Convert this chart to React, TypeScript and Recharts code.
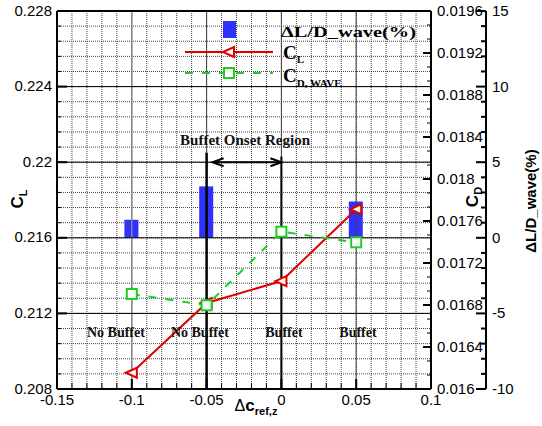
import React from 'react';
import {
  ComposedChart, Bar, Line, XAxis, YAxis, CartesianGrid, ReferenceLine, ReferenceDot, Legend,
} from 'recharts';

// ---------------- data ----------------
const xValues = [-0.1, -0.05, 0, 0.05];
const ldWave = [1.2, 3.4, 0, 2.4];
const clValues = [0.20886, 0.21255, 0.21371, 0.21751];
const cdWave = [0.016905, 0.016797, 0.017498, 0.017397];

const xMajorTicks = [-0.15, -0.1, -0.05, 0, 0.05, 0.1];
const xTickLabels = ['-0.15', '-0.1', '-0.05', '0', '0.05', '0.1'];
const clMajorTicks = [0.208, 0.212, 0.216, 0.22, 0.224, 0.228];
const clTickLabels = ['0.208', '0.212', '0.216', '0.22', '0.224', '0.228'];
const cdMajorTicks = [0.016, 0.0164, 0.0168, 0.0172, 0.0176, 0.018, 0.0184, 0.0188, 0.0192, 0.0196];
const cdTickLabels = ['0.016', '0.0164', '0.0168', '0.0172', '0.0176', '0.018', '0.0184', '0.0188', '0.0192', '0.0196'];
const ldMajorTicks = [-10, -5, 0, 5, 10, 15];
const ldTickLabels = ['-10', '-5', '0', '5', '10', '15'];

const regionLabels = [
  { x: -0.1106, y: 0.21076, text: 'No Buffet' },
  { x: -0.0545, y: 0.21076, text: 'No Buffet' },
  { x: 0.0017, y: 0.21076, text: 'Buffet' },
  { x: 0.0512, y: 0.21076, text: 'Buffet' },
];
const onsetTitle = { x: -0.0243, y: 0.22091, text: 'Buffet Onset Region' };
const onsetStart = { x: -0.05, top: 0.2205 };
const onsetEnd = { x: 0, top: 0.2203 };
const arrowSpan = { from: -0.046, to: 0, y: 0.22 };

const data = xValues.map((x, i) => ({ x, ld: ldWave[i], cl: clValues[i], cd: cdWave[i] }));

// minor tick subdivision helper (axis ticks only)
const subdivide = (majors: number[], n: number) => {
  const out: number[] = [];
  for (let i = 0; i < majors.length - 1; i++) {
    for (let k = 0; k < n; k++) {
      out.push(Number((majors[i] + ((majors[i + 1] - majors[i]) * k) / n).toPrecision(10)));
    }
  }
  out.push(majors[majors.length - 1]);
  return out;
};
const xTicks = subdivide(xMajorTicks, 5);
const clTicks = subdivide(clMajorTicks, 5);
const cdTicks = subdivide(cdMajorTicks, 3);
const ldTicks = subdivide(ldMajorTicks, 5);

const majorIndex = (majors: number[], v: number) =>
  majors.findIndex((m) => Math.abs(m - v) < Math.abs(majors[1] - majors[0]) * 1e-4);

const BLUE = '#3030ff';
const RED = '#dd0000';
const GREEN = '#22cc22';
const SANS = '"Liberation Sans", Arial, sans-serif';
const SERIF = '"Liberation Serif", "Times New Roman", serif';
const TICK_FS = 15;

// ---------------- ticks ----------------
const XTick = (props: any) => {
  const { x, y, payload } = props;
  const idx = majorIndex(xMajorTicks, payload.value);
  const major = idx >= 0;
  return (
    <g>
      <line x1={x} x2={x} y1={y} y2={y - (major ? 10 : 6)} stroke="#000" strokeWidth={major ? 2 : 1} />
      {major && (
        <text x={x} y={y + 16} textAnchor="middle" fontFamily={SANS} fontSize={TICK_FS} fill="#000">
          {xTickLabels[idx]}
        </text>
      )}
    </g>
  );
};

const LeftTick = (props: any) => {
  const { x, y, payload } = props;
  const idx = majorIndex(clMajorTicks, payload.value);
  const major = idx >= 0;
  return (
    <g>
      <line x1={x} x2={x + (major ? 10 : 4)} y1={y} y2={y} stroke="#000" strokeWidth={major ? 2 : 1} />
      {major && (
        <text x={x - 5} y={y + 4.5} textAnchor="end" fontFamily={SANS} fontSize={TICK_FS} fill="#000">
          {clTickLabels[idx]}
        </text>
      )}
    </g>
  );
};

const CdTick = (props: any) => {
  const { x, y, payload } = props;
  const idx = majorIndex(cdMajorTicks, payload.value);
  const major = idx >= 0;
  const ax = x - 6;
  return (
    <g>
      <line x1={ax} x2={ax - (major ? 8 : 4)} y1={y} y2={y} stroke="#000" strokeWidth={major ? 2 : 1} />
      {major && (
        <text x={x} y={y + 5} textAnchor="start" fontFamily={SANS} fontSize={TICK_FS} fill="#000">
          {cdTickLabels[idx]}
        </text>
      )}
    </g>
  );
};

const LdTick = (props: any) => {
  const { x, y, payload } = props;
  const idx = majorIndex(ldMajorTicks, payload.value);
  const major = idx >= 0;
  const ax = x - 6;
  return (
    <g>
      <line x1={ax} x2={ax - (major ? 10 : 5)} y1={y} y2={y} stroke="#000" strokeWidth={2} />
      {major && (
        <text x={x} y={y + 5} textAnchor="start" fontFamily={SANS} fontSize={TICK_FS} fill="#000">
          {ldTickLabels[idx]}
        </text>
      )}
    </g>
  );
};

// ---------------- markers ----------------
const TriangleDot = (props: any) => {
  const { cx, cy, index } = props;
  if (cx == null || cy == null) return <g key={index} />;
  return (
    <polygon
      key={index}
      points={`${cx - 6},${cy} ${cx + 5},${cy - 5} ${cx + 5},${cy + 5}`}
      fill="#fff"
      stroke={RED}
      strokeWidth={2}
    />
  );
};

const SquareDot = (props: any) => {
  const { cx, cy, index } = props;
  if (cx == null || cy == null) return <g key={index} />;
  return <rect key={index} x={cx - 5} y={cy - 5} width={10} height={10} fill="#fff" stroke={GREEN} strokeWidth={2} />;
};

// ---------------- annotations ----------------
const ArrowShape = (p: any) => {
  const { x1, y1, x2, y2 } = p;
  const l = Math.min(x1, x2);
  const r = Math.max(x1, x2);
  return (
    <g>
      <line x1={l} x2={r} y1={y1} y2={y2} stroke="#000" strokeWidth={2} />
      <polyline points={`${l + 11},${y1 - 4} ${l},${y1} ${l + 11},${y1 + 4}`} fill="none" stroke="#000" strokeWidth={2} />
      <polyline points={`${r - 11},${y1 - 4} ${r},${y1} ${r - 11},${y1 + 4}`} fill="none" stroke="#000" strokeWidth={2} />
    </g>
  );
};

const textShape = (text: string, size: number) => (p: any) => (
  <text x={p.cx} y={p.cy} textAnchor="middle" fontFamily={SERIF} fontWeight="bold" fontSize={size} fill="#111">
    {text}
  </text>
);

// ---------------- legend ----------------
const LegendContent = () => (
  <svg width={542} height={100} style={{ position: 'absolute', left: 0, top: 0, overflow: 'visible' }}>
    <rect x={223} y={21} width={13} height={17} fill={BLUE} />
    <text x={281} y={37} fontFamily={SERIF} fontWeight="bold" fontSize={15} fill="#000" textLength={135} lengthAdjust="spacingAndGlyphs">
      ΔL/D_wave(%)
    </text>
    <line x1={185} x2={273} y1={52} y2={52} stroke={RED} strokeWidth={2} />
    <polygon points={`${223},52 ${234},47 ${234},57`} fill="#fff" stroke={RED} strokeWidth={2} />
    <text x={283} y={59} fontFamily={SERIF} fontWeight="bold" fontSize={19} fill="#000">
      C<tspan fontSize={11} dy={4}>L</tspan>
    </text>
    <line x1={185} x2={273} y1={73} y2={73} stroke={GREEN} strokeWidth={2} strokeDasharray="8 9" />
    <rect x={224} y={68} width={10} height={10} fill="#fff" stroke={GREEN} strokeWidth={2} />
    <text x={283} y={82} fontFamily={SERIF} fontWeight="bold" fontSize={19} fill="#000">
      C<tspan fontSize={11} dy={5}>D, WAVE</tspan>
    </text>
  </svg>
);

// ---------------- axis titles ----------------
const LeftTitle = (p: any) => {
  const vb = p.viewBox;
  const cx = vb.x + 23;
  const cy = vb.y + vb.height / 2 - 1;
  return (
    <text x={cx} y={cy} transform={`rotate(-90, ${cx}, ${cy})`} textAnchor="middle" fontFamily={SANS} fontWeight="bold" fontSize={17} fill="#000">
      C<tspan fontSize={11} dy={4}>L</tspan>
    </text>
  );
};
const CdTitle = (p: any) => {
  const vb = p.viewBox;
  const cx = vb.x + 47;
  const cy = vb.y + vb.height / 2 - 3;
  return (
    <text x={cx} y={cy} transform={`rotate(-90, ${cx}, ${cy})`} textAnchor="middle" fontFamily={SANS} fontWeight="bold" fontSize={17} fill="#000">
      C<tspan fontSize={11} dy={4}>D</tspan>
    </text>
  );
};
const LdTitle = (p: any) => {
  const vb = p.viewBox;
  const cx = vb.x + 50;
  const cy = vb.y + vb.height / 2 + 1;
  return (
    <text x={cx} y={cy} transform={`rotate(-90, ${cx}, ${cy})`} textAnchor="middle" fontFamily={SANS} fontWeight="bold" fontSize={15} fill="#000">
      ΔL/D_wave(%)
    </text>
  );
};
const XTitle = (p: any) => {
  const vb = p.viewBox;
  const cx = vb.x + vb.width / 2 + 12;
  const cy = vb.y + 22;
  return (
    <text x={cx} y={cy} textAnchor="middle" fontFamily={SANS} fill="#000">
      <tspan fontSize={16}>Δ</tspan>
      <tspan fontSize={17} fontWeight="bold">c</tspan>
      <tspan fontSize={11} fontWeight="bold" dy={4}>ref,z</tspan>
    </text>
  );
};

export default function App() {
  return (
    <div style={{ position: 'absolute', left: 0, top: 0, width: 542, height: 426, background: '#fff' }}>
      <ComposedChart width={542} height={426} data={data} margin={{ top: 11, right: 0, bottom: 7, left: 0 }}>
        <CartesianGrid yAxisId="cl" stroke="#444" strokeDasharray="1 1" strokeWidth={1} />
        {xMajorTicks.slice(1, -1).map((v) => (
          <ReferenceLine key={`vx${v}`} x={v} yAxisId="cl" stroke={v === -0.1 ? '#888' : '#444'} strokeWidth={v === -0.1 ? 1.5 : 1} />
        ))}
        {clMajorTicks.slice(1, -1).map((v) => (
          <ReferenceLine key={`hy${v}`} y={v} yAxisId="cl" stroke="#000" strokeWidth={1} />
        ))}
        <ReferenceLine y={0.228} yAxisId="cl" stroke="#000" strokeWidth={2} />
        <ReferenceLine
          yAxisId="cl"
          segment={[{ x: onsetStart.x, y: onsetStart.top }, { x: onsetStart.x, y: 0.208 }]}
          stroke="#000"
          strokeWidth={2.5}
        />
        <ReferenceLine
          yAxisId="cl"
          segment={[{ x: onsetEnd.x, y: onsetEnd.top }, { x: onsetEnd.x, y: 0.208 }]}
          stroke="#000"
          strokeWidth={2}
        />
        <XAxis
          dataKey="x"
          type="number"
          domain={[-0.15, 0.1]}
          ticks={xTicks}
          interval={0}
          allowDataOverflow
          height={30}
          tickSize={0}
          tickMargin={0}
          tick={<XTick />}
          axisLine={{ stroke: '#000', strokeWidth: 2 }}
          label={<XTitle />}
        />
        <YAxis
          yAxisId="cl"
          orientation="left"
          type="number"
          domain={[0.208, 0.228]}
          ticks={clTicks}
          interval={0}
          allowDataOverflow
          width={57}
          tickSize={0}
          tickMargin={0}
          tick={<LeftTick />}
          axisLine={{ stroke: '#000', strokeWidth: 2 }}
          label={<LeftTitle />}
        />
        <YAxis
          yAxisId="cd"
          orientation="right"
          type="number"
          domain={[0.016, 0.0196]}
          ticks={cdTicks}
          interval={0}
          allowDataOverflow
          width={55}
          tickSize={0}
          tickMargin={6}
          tick={<CdTick />}
          axisLine={{ stroke: '#000', strokeWidth: 2 }}
          label={<CdTitle />}
        />
        <YAxis
          yAxisId="ld"
          orientation="right"
          type="number"
          domain={[-10, 15]}
          ticks={ldTicks}
          interval={0}
          allowDataOverflow
          width={56}
          tickSize={0}
          tickMargin={6}
          tick={<LdTick />}
          axisLine={{ stroke: '#000', strokeWidth: 2 }}
          label={<LdTitle />}
        />
        <Bar dataKey="ld" yAxisId="ld" fill={BLUE} barSize={14} isAnimationActive={false} />
        <Line
          dataKey="cl"
          yAxisId="cl"
          type="linear"
          stroke={RED}
          strokeWidth={2}
          dot={(p: any) => <TriangleDot key={p.index} {...p} />}
          activeDot={false}
          isAnimationActive={false}
        />
        <Line
          dataKey="cd"
          yAxisId="cd"
          type="linear"
          stroke={GREEN}
          strokeWidth={2}
          strokeDasharray="8 9"
          dot={(p: any) => <SquareDot key={p.index} {...p} />}
          activeDot={false}
          isAnimationActive={false}
        />
        <ReferenceLine
          yAxisId="cl"
          segment={[{ x: arrowSpan.from, y: arrowSpan.y }, { x: arrowSpan.to, y: arrowSpan.y }]}
          shape={(p: any) => <ArrowShape {...p} />}
        />
        <ReferenceDot
          yAxisId="cl"
          x={onsetTitle.x}
          y={onsetTitle.y}
          r={0}
          shape={textShape(onsetTitle.text, 15)}
        />
        {regionLabels.map((l, i) => (
          <ReferenceDot key={`rl${i}`} yAxisId="cl" x={l.x} y={l.y} r={0} shape={textShape(l.text, 14)} />
        ))}
        <Legend
          layout="horizontal"
          verticalAlign="middle"
          align="center"
          content={<LegendContent />}
          wrapperStyle={{ position: 'absolute', left: 0, top: 0, width: 542, height: 100, pointerEvents: 'none' }}
        />
      </ComposedChart>
    </div>
  );
}
